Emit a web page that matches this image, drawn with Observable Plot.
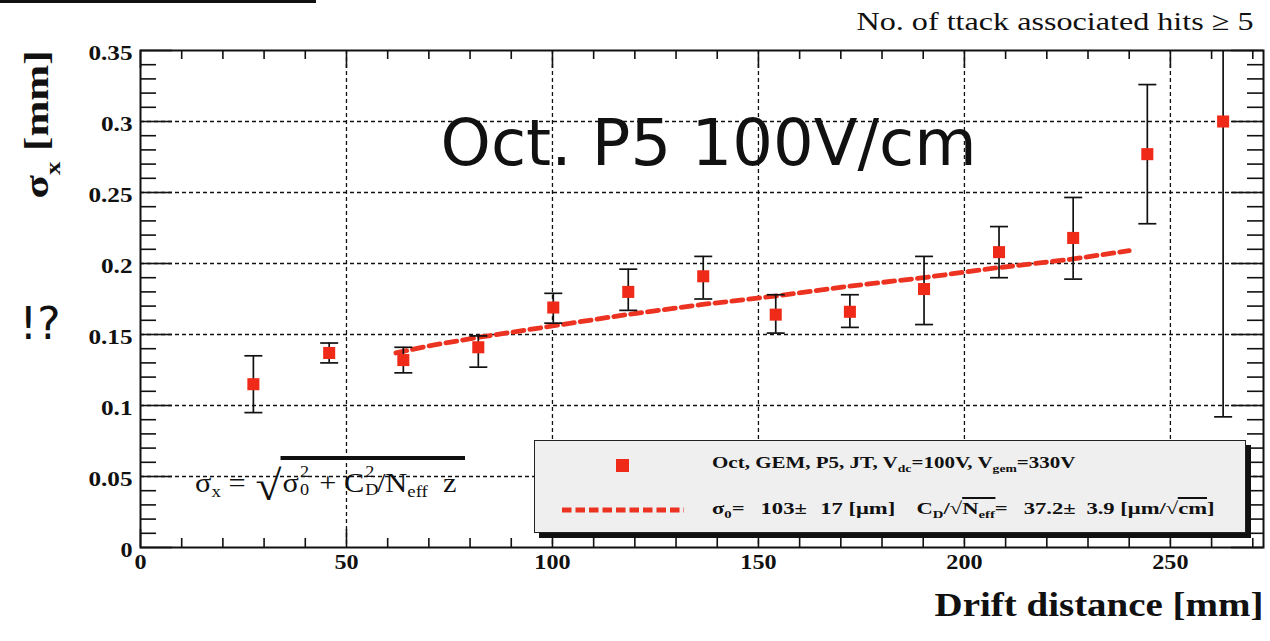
<!DOCTYPE html>
<html>
<head>
<meta charset="utf-8">
<script src="https://cdn.jsdelivr.net/npm/d3@7"></script>
<script src="https://cdn.jsdelivr.net/npm/@observablehq/plot@0.6"></script>
<style>
  body { margin: 0; background: #fff; }
  #wrap { position: relative; width: 1270px; height: 641px; overflow: hidden; background: #fff; }
  #wrap > svg { position: absolute; left: 0; top: 0; }
  .topline { position: absolute; left: 0; top: 0; width: 316px; height: 3px; background: #111; }
  .legend { position: absolute; left: 534px; top: 440px; width: 712px; height: 93px; box-sizing: border-box;
            background: #efefef; border: 1.5px solid #222; box-shadow: 5px 5px 0 #111;
            font-family: "Liberation Serif", serif; font-weight: bold; color: #111; }
  .lsq { position: absolute; left: 81px; top: 18px; width: 13px; height: 13px; background: #f02a18; }
  .lline { position: absolute; left: 25px; top: 64px; }
  .lt { position: absolute; left: 177px; font-size: 17px; white-space: nowrap; line-height: 1; transform-origin: 0 50%; }
  .lt1 { top: 13px; }
  .lt2 { top: 59px; }
  .lt sub { font-size: 65%; vertical-align: -0.35em; }
  .sp { display: inline-block; }
  .ov { border-top: 2px solid #111; }
  .formula { position: absolute; left: 195px; top: 456px; font-family: "Liberation Serif", serif; font-size: 27px;
             color: #111; white-space: nowrap; line-height: 1; transform-origin: 0 50%; }
  .formula sub { font-size: 62%; vertical-align: -0.3em; }
  .formula .rad { display: inline-block; font-size: 42px; vertical-align: -8px; margin-left: 2px; }
  .formula .radicand { display: inline-block; border-top: 4px solid #111; padding: 5px 8px 0 2px; margin-left: -1px; }
  .ss { display: inline-block; position: relative; width: 0.42em; height: 1em; }
  .ss .u { position: absolute; left: 1px; top: -0.05em; font-size: 60%; }
  .ss .d { position: absolute; left: 1px; bottom: -0.38em; font-size: 60%; }
</style>
</head>
<body>
<div id="wrap"></div>
<script>
// ---------- data ----------
const driftX   = [27.4, 45.8, 63.8, 82.0, 100.2, 118.4, 136.6, 154.2, 172.2, 190.2, 208.4, 226.4, 244.4, 262.8];
const sigmaX   = [0.115, 0.137, 0.132, 0.141, 0.169, 0.180, 0.191, 0.164, 0.166, 0.182, 0.208, 0.218, 0.277, 0.300];
const errLow   = [0.095, 0.130, 0.123, 0.127, 0.158, 0.167, 0.175, 0.151, 0.155, 0.157, 0.190, 0.189, 0.228, 0.092];
const errHigh  = [0.135, 0.144, 0.141, 0.149, 0.179, 0.196, 0.205, 0.178, 0.178, 0.205, 0.226, 0.2465, 0.326, 0.508];
const fitX     = [62, 70, 82, 100, 118, 136, 154, 172, 190, 208, 226, 240];
const fitY     = [0.137, 0.142, 0.148, 0.156, 0.164, 0.171, 0.177, 0.184, 0.190, 0.197, 0.203, 0.209];

const xMajor   = [0, 50, 100, 150, 200, 250];
const xLabels  = ["0", "50", "100", "150", "200", "250"];
const yMajor   = [0, 0.05, 0.1, 0.15, 0.2, 0.25, 0.3, 0.35];
const yLabels  = ["0", "0.05", "0.1", "0.15", "0.2", "0.25", "0.3", "0.35"];
const xGrid    = [50, 100, 150, 200, 250];
const yGrid    = [0.05, 0.1, 0.15, 0.2, 0.25, 0.3];

const titleText   = "Oct. P5 100V/cm";
const sideNote    = "!?";
const noteText    = "No. of ttack associated hits \u2265 5";
const xTitle      = "Drift distance [mm]";
const yTitle      = "\u03c3_{x} [mm]";
const legendSeries = ["Oct, GEM, P5, JT, V", "dc", "=100V, V", "gem", "=330V"];
const fitParams   = { sigma0: "103", sigma0Err: "17", cd: "37.2", cdErr: "3.9" };

// ---------- layout ----------
const W = 1270, H = 641, mL = 140, mR = 7, mT = 50, mB = 94;
const innerW = W - mL - mR, innerH = H - mT - mB;
const xDom = [0, 272.6], yDom = [0, 0.35];
const RED = "#f02a18", FITRED = "#ec3322";

const points = driftX.map((x, i) => ({x, y: sigmaX[i], lo: errLow[i], hi: errHigh[i]}));
const fit = fitX.map((x, i) => ({x, y: fitY[i]}));
const yMinor = d3.range(1, 35).map(k => k / 100).filter((d, i) => (i + 1) % 5 !== 0);
const xMinor = d3.range(10, 271, 10).filter(d => d % 50 !== 0);

// inward tick marks (lengths in px converted to scale units)
const pxX = (xDom[1] - xDom[0]) / innerW, pxY = (yDom[1] - yDom[0]) / innerH;
const tickL = (vals, len) => [
  Plot.ruleY(vals, {y: d => d, x1: xDom[0], x2: xDom[0] + len * pxX, stroke: "#111", strokeWidth: 1.6}),
  Plot.ruleY(vals, {y: d => d, x1: xDom[1] - len * pxX, x2: xDom[1], stroke: "#111", strokeWidth: 1.6})
];
const tickB = (vals, len) => [
  Plot.ruleX(vals, {x: d => d, y1: yDom[0], y2: yDom[0] + len * pxY, stroke: "#111", strokeWidth: 1.6}),
  Plot.ruleX(vals, {x: d => d, y1: yDom[1] - len * pxY, y2: yDom[1], stroke: "#111", strokeWidth: 1.6})
];
const capSymbol = { draw(ctx, size) { const h = Math.sqrt(size / Math.PI); ctx.moveTo(-h, 0); ctx.lineTo(h, 0); } };

const chart = Plot.plot({
  width: W, height: H,
  marginLeft: mL, marginRight: mR, marginTop: mT, marginBottom: mB,
  style: {fontFamily: "Liberation Serif, serif", fontWeight: "bold", fontSize: "22px", color: "#111", background: "transparent"},
  x: {domain: xDom, axis: null},
  y: {domain: yDom, axis: null},
  marks: [
    Plot.ruleY(yGrid, {y: d => d, stroke: "#111", strokeWidth: 1.3, strokeDasharray: "4,3"}),
    Plot.ruleX(xGrid, {x: d => d, stroke: "#111", strokeWidth: 1.3, strokeDasharray: "4,3"}),
    ...tickL(yMinor, 16), ...tickL(yMajor, 32),
    ...tickB(xMinor, 9), ...tickB(xMajor, 18),
    Plot.line(fit, {x: "x", y: "y", stroke: FITRED, strokeWidth: 4.8, strokeDasharray: "11,6"}),
    Plot.ruleX(points, {x: "x", y1: "lo", y2: "hi", stroke: "#111", strokeWidth: 1.7, clip: true}),
    Plot.dot(points, {x: "x", y: "lo", symbol: capSymbol, r: 9, stroke: "#111", strokeWidth: 1.7, fill: "none", clip: true}),
    Plot.dot(points, {x: "x", y: "hi", symbol: capSymbol, r: 9, stroke: "#111", strokeWidth: 1.7, fill: "none", clip: true}),
    Plot.dot(points, {x: "x", y: "y", symbol: "square", r: 6.8, fill: RED, stroke: "none"}),
    Plot.frame({stroke: "#111", strokeWidth: 2}),
    Plot.axisY({ticks: yMajor, tickSize: 0, tickPadding: 8, tickFormat: d => yLabels[yMajor.indexOf(d)], label: null, fontSize: 21, dy: 3}),
    Plot.axisX({ticks: xMajor, tickSize: 0, tickPadding: 7, tickFormat: d => xLabels[xMajor.indexOf(d)], label: null, fontSize: 21}),
    Plot.text([xTitle], {text: d => d, frameAnchor: "bottom-right", dx: 0, dy: 68, textAnchor: "end", lineAnchor: "bottom", fontSize: 34, fontWeight: "bold"}),
    Plot.text([yTitle], {text: d => d, frameAnchor: "top-left", dx: -93, dy: 0, rotate: -90, textAnchor: "end", lineAnchor: "bottom", fontSize: 34, fontWeight: "bold"}),
    Plot.text([noteText], {text: d => d, frameAnchor: "top-right", dx: -10, dy: -21, textAnchor: "end", lineAnchor: "bottom", fontSize: 26, fontWeight: "normal"}),
    Plot.text([titleText], {text: d => d, frameAnchor: "top-left", dx: 300, dy: 114, textAnchor: "start", lineAnchor: "bottom", fontSize: 64, fontWeight: "normal", fontFamily: "DejaVu Sans"}),
    Plot.text([sideNote], {text: d => d, frameAnchor: "top-left", dx: -121, dy: 288, textAnchor: "start", lineAnchor: "bottom", fontSize: 44, fontWeight: "normal", fontFamily: "DejaVu Sans"})
  ]
});

function richify(el) {
  const s = el.textContent;
  if (!/[_^]\{/.test(s)) return;
  const ns = "http://www.w3.org/2000/svg";
  while (el.firstChild) el.removeChild(el.firstChild);
  const re = /([_^])\{([^}]*)\}/g; let last = 0, m;
  const add = (txt, shift) => {
    const t = document.createElementNS(ns, "tspan"); t.textContent = txt;
    if (shift) { t.setAttribute("font-size", "62%"); t.setAttribute("baseline-shift", shift); }
    el.appendChild(t);
  };
  while ((m = re.exec(s))) {
    if (m.index > last) add(s.slice(last, m.index));
    add(m[2], m[1] === "_" ? "sub" : "super");
    last = re.lastIndex;
  }
  if (last < s.length) add(s.slice(last));
}
const rawTexts = new Map();
chart.querySelectorAll("text").forEach(t => { rawTexts.set(t, t.textContent); richify(t); });

const wrap = document.getElementById("wrap");
wrap.appendChild(chart);

// horizontal stretch of the (wide, bitmap-scaled) reference lettering
const stretchText = (pred, f) => chart.querySelectorAll("text").forEach(t => {
  if (!pred(rawTexts.get(t) || t.textContent)) return;
  const L = t.getComputedTextLength();
  if (L > 0) { t.setAttribute("textLength", typeof f === "number" ? L * f : f(L)); t.setAttribute("lengthAdjust", "spacingAndGlyphs"); }
});
stretchText(s => yLabels.includes(s) && s.includes("."), 1.2);
stretchText(s => xLabels.includes(s), 1.15);
stretchText(s => s === xTitle, () => 329);
stretchText(s => s === yTitle, () => 148);
stretchText(s => s === noteText, () => 397);

const tl = document.createElement("div"); tl.className = "topline"; wrap.appendChild(tl);

const f = document.createElement("div"); f.className = "formula";
f.innerHTML = `σ<sub>x</sub> = <span class="rad">√</span><span class="radicand">σ<span class="ss"><span class="u">2</span><span class="d">0</span></span> + C<span class="ss"><span class="u">2</span><span class="d">D</span></span>/N<sub>eff</sub>&nbsp; z</span>`;
wrap.appendChild(f);
f.style.transform = `scaleX(${270 / f.offsetWidth})`;

const lg = document.createElement("div"); lg.className = "legend";
const p = fitParams;
const gap = w => `<span class="sp" style="width:${w}px"></span>`;
lg.innerHTML = `
  <div class="lsq"></div>
  <svg class="lline" width="124" height="10"><line x1="2" y1="5" x2="124" y2="5" stroke="${FITRED}" stroke-width="5" stroke-dasharray="9.5,4"/></svg>
  <div class="lt lt1">${legendSeries[0]}<sub>${legendSeries[1]}</sub>${legendSeries[2]}<sub>${legendSeries[3]}</sub>${legendSeries[4]}</div>
  <div class="lt lt2">σ<sub>0</sub>=${gap(12)}${p.sigma0}±${gap(10)}${p.sigma0Err} [μm]${gap(16)}C<sub>D</sub>/√<span class="ov">N<sub>eff</sub></span>=${gap(12)}${p.cd}±${gap(8)}${p.cdErr} [μm/√<span class="ov">cm</span>]</div>`;
wrap.appendChild(lg);
const l1 = lg.querySelector(".lt1"), l2 = lg.querySelector(".lt2");
l1.style.transform = `scaleX(${363 / l1.offsetWidth})`;
l2.style.transform = `scaleX(${503 / l2.offsetWidth})`;
</script>
</body>
</html>
